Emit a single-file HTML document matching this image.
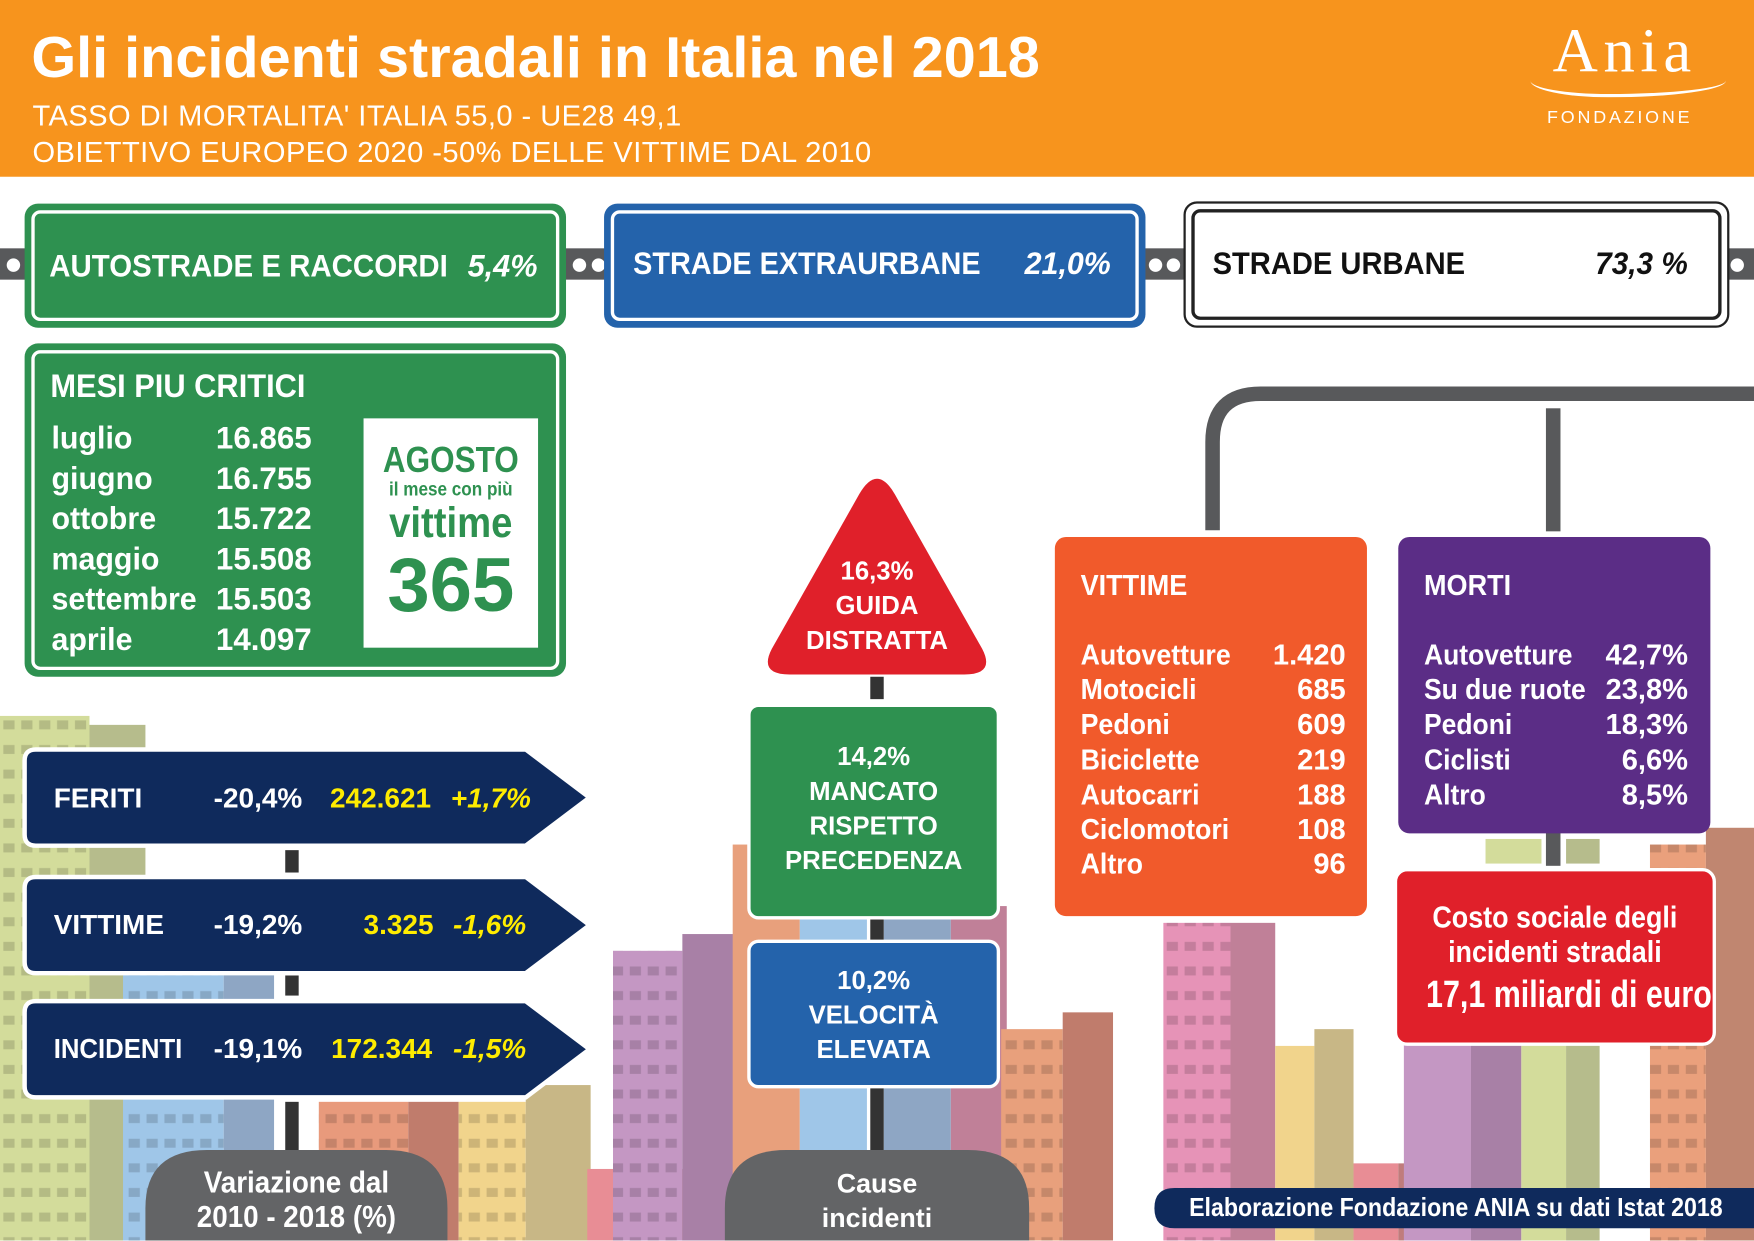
<!DOCTYPE html>
<html><head><meta charset="utf-8"><style>
html,body{margin:0;padding:0;width:1754px;height:1241px;overflow:hidden;background:#fff}
#w{position:absolute;left:0;top:0;width:1568px;height:1109px;transform:scale(1.11862);transform-origin:0 0;font-family:"Liberation Sans",sans-serif;font-weight:bold}
.a{position:absolute}
.t{position:absolute;white-space:nowrap;color:#fff}
.box{position:absolute;border-radius:12px;box-sizing:border-box}
.inner{position:absolute;left:6px;top:6px;right:6px;bottom:6px;border:3px solid #fff;border-radius:8px}
.y{color:#ffec00}
.sign{font-family:"Liberation Sans",sans-serif;text-align:center;font-size:23px;line-height:31px;color:#fff;position:absolute}
.vl{font-size:26px;line-height:31.2px}
</style></head><body><div id="w">
<svg class="a" style="left:0;top:0" width="1568" height="1109">
<defs>
<pattern id="win" width="16" height="22" patternUnits="userSpaceOnUse"><rect x="3" y="6" width="10" height="8" fill="#000" opacity="0.15"/></pattern>
</defs>
<g>
<rect x="0" y="640" width="80" height="469" fill="#d3dc9b"/><rect x="80" y="648" width="50" height="461" fill="#b6bc8c"/><rect x="0" y="640" width="80" height="469" fill="url(#win)"/>
<rect x="110" y="860" width="90" height="249" fill="#9fc6e8"/><rect x="200" y="860" width="45" height="249" fill="#8ea6c4"/><rect x="110" y="860" width="90" height="249" fill="url(#win)"/>
<rect x="285" y="985" width="80" height="124" fill="#e89a7c"/><rect x="365" y="985" width="45" height="124" fill="#c07c6c"/><rect x="285" y="985" width="80" height="124" fill="url(#win)"/>
<rect x="410" y="985" width="60" height="124" fill="#f1d48c"/><rect x="470" y="970" width="58" height="139" fill="#c8b786"/><rect x="410" y="985" width="60" height="124" fill="url(#win)"/>
<rect x="525" y="1045" width="50" height="64" fill="#e88d95"/><rect x="575" y="1045" width="40" height="64" fill="#c07c7c"/>
<rect x="548" y="850" width="62" height="259" fill="#c497c3"/><rect x="610" y="835" width="70" height="274" fill="#a880a6"/><rect x="548" y="850" width="62" height="259" fill="url(#win)"/>
<rect x="655" y="755" width="60" height="300" fill="#e8a07c"/><rect x="715" y="755" width="60" height="300" fill="#9fc6e8"/><rect x="790" y="755" width="60" height="300" fill="#8ea6c4"/>
<rect x="850" y="810" width="50" height="299" fill="#c08098"/>
<rect x="895" y="920" width="55" height="189" fill="#e8a07c"/><rect x="950" y="905" width="45" height="204" fill="#c07c6c"/><rect x="895" y="920" width="55" height="189" fill="url(#win)"/>
<rect x="1040" y="825" width="60" height="284" fill="#e693b7"/><rect x="1100" y="825" width="40" height="284" fill="#c08098"/><rect x="1040" y="825" width="60" height="284" fill="url(#win)"/>
<rect x="1140" y="935" width="35" height="174" fill="#f1d48c"/><rect x="1175" y="920" width="35" height="189" fill="#c8b786"/>
<rect x="1210" y="1040" width="40" height="69" fill="#e88d95"/><rect x="1250" y="1040" width="40" height="69" fill="#c07c7c"/>
<rect x="1255" y="930" width="60" height="179" fill="#c497c3"/><rect x="1315" y="930" width="45" height="179" fill="#a880a6"/><rect x="1360" y="930" width="40" height="179" fill="#d3dc9b"/><rect x="1400" y="930" width="30" height="179" fill="#b6bc8c"/>
<rect x="1328" y="750" width="50" height="22" fill="#d3dc9b"/><rect x="1400" y="750" width="30" height="22" fill="#b6bc8c"/>
<rect x="1475" y="755" width="50" height="354" fill="#eaa07c"/><rect x="1525" y="740" width="43" height="369" fill="#c08670"/><rect x="1475" y="755" width="50" height="354" fill="url(#win)"/>
</g>
<rect x="0" y="222" width="1568" height="28" fill="#58595b"/>
<circle cx="12" cy="237" r="6" fill="#fff"/><circle cx="518" cy="237" r="6" fill="#fff"/><circle cx="535" cy="237" r="6" fill="#fff"/><circle cx="1033" cy="237" r="6" fill="#fff"/><circle cx="1049" cy="237" r="6" fill="#fff"/><circle cx="1553" cy="237" r="6" fill="#fff"/>
<path d="M1084 474 V395 Q1084 352 1127 352 H1568" stroke="#58595b" stroke-width="13" fill="none"/>
<rect x="1382" y="365" width="13" height="110" fill="#58595b"/>
<rect x="1382" y="744" width="13" height="30" fill="#58595b"/>
<rect x="255" y="760" width="12" height="20" fill="#333"/><rect x="255" y="872" width="12" height="18" fill="#333"/><rect x="255" y="985" width="12" height="45" fill="#333"/>
<rect x="778" y="605" width="12" height="20" fill="#333"/><rect x="778" y="822" width="12" height="20" fill="#333"/><rect x="778" y="970" width="12" height="60" fill="#333"/>
<path d="M130 1109 V1080 Q130 1028 185 1028 H345 Q400 1028 400 1080 V1109Z" fill="#636466"/>
<path d="M648 1109 V1080 Q648 1028 703 1028 H865 Q920 1028 920 1080 V1109Z" fill="#636466"/>
<path d="M784 428 Q792 428 800 442 L878 580 Q890 603 862 603 H706 Q678 603 690 580 L768 442 Q776 428 784 428Z" fill="#e0202a"/>
<g fill="#0f2a5c" stroke="#fff" stroke-width="4">
<path d="M32 670 H470 L527 713 L470 756 H32 Q22 756 22 746 V680 Q22 670 32 670Z"/>
<path d="M32 784 H470 L527 827 L470 870 H32 Q22 870 22 860 V794 Q22 784 32 784Z"/>
<path d="M32 895 H470 L527 938 L470 981 H32 Q22 981 22 971 V905 Q22 895 32 895Z"/>
</g>
<path d="M1050 1062 H1568 V1098 H1050 Q1032 1098 1032 1080 Q1032 1062 1050 1062Z" fill="#0f2a5c"/>
</svg>

<div class="a" style="left:0;top:0;width:1568px;height:158px;background:#f7941d"></div>
<div class="t" style="left:28px;top:21px;font-size:51.5px">Gli incidenti stradali in Italia nel 2018</div>
<div class="t" style="left:29px;top:88px;font-weight:normal;font-size:26px;letter-spacing:0.4px">TASSO DI MORTALITA' ITALIA 55,0 - UE28 49,1</div>
<div class="t" style="left:29px;top:121px;font-weight:normal;font-size:26px;letter-spacing:0.4px">OBIETTIVO EUROPEO 2020 -50% DELLE VITTIME DAL 2010</div>
<div class="t" style="left:1388px;top:14px;font-family:'Liberation Serif',serif;font-weight:normal;font-size:56px;letter-spacing:5px">Ania</div>
<div class="a" style="left:1368px;top:72px;width:175px;height:12px;border-bottom:3px solid #fff;border-radius:0 0 60% 40%/0 0 100% 100%"></div>
<div class="t" style="left:1383px;top:97px;font-weight:normal;font-size:16px;letter-spacing:2.5px">FONDAZIONE</div>

<div class="box" style="left:22px;top:182px;width:484px;height:111px;background:#2e9150"><div class="inner"></div></div>
<div class="t" style="left:44px;top:222px;font-size:28px;transform:scaleX(0.94);transform-origin:left">AUTOSTRADE E RACCORDI</div><div class="t" style="left:418px;top:222px;font-size:28px;font-style:italic;transform:scaleX(0.98);transform-origin:left">5,4%</div>
<div class="box" style="left:540px;top:182px;width:484px;height:111px;background:#2463ab"><div class="inner"></div></div>
<div class="t" style="left:566px;top:220px;font-size:28px;transform:scaleX(0.92);transform-origin:left">STRADE EXTRAURBANE</div><div class="t" style="left:916px;top:220px;font-size:28px;font-style:italic;transform:scaleX(0.97);transform-origin:left">21,0%</div>
<div class="box" style="left:1058px;top:180px;width:488px;height:113px;background:#fff;border:2px solid #222"><div class="inner" style="border-color:#222;left:5px;top:5px;right:5px;bottom:5px"></div></div>
<div class="t" style="left:1084px;top:220px;font-size:28px;color:#111;transform:scaleX(0.93);transform-origin:left">STRADE URBANE</div><div class="t" style="left:1426px;top:220px;font-size:28px;font-style:italic;color:#111;transform:scaleX(0.95);transform-origin:left">73,3 %</div>

<div class="box" style="left:22px;top:307px;width:484px;height:298px;background:#2e9150"><div class="inner"></div></div>
<div class="t" style="left:45px;top:330px;font-size:29px;transform:scaleX(0.95);transform-origin:left">MESI PIU CRITICI</div>
<div class="t vl" style="left:46px;top:374px;font-size:28px;line-height:36px;transform:scaleX(0.97);transform-origin:left">luglio<br>giugno<br>ottobre<br>maggio<br>settembre<br>aprile</div>
<div class="t vl" style="left:193px;top:374px;font-size:28px;line-height:36px">16.865<br>16.755<br>15.722<br>15.508<br>15.503<br>14.097</div>
<div class="a" style="left:325px;top:374px;width:156px;height:205px;background:#fff;text-align:center;color:#2e9150">
<div style="font-size:32px;margin-top:20px;line-height:34px;transform:scaleX(0.88)">AGOSTO</div>
<div style="font-size:17px;line-height:20px;transform:scaleX(0.9)">il mese con più</div>
<div style="font-size:38px;line-height:40px;transform:scaleX(0.9)">vittime</div>
<div style="font-size:68px;line-height:70px">365</div></div>

<div class="t" style="left:48px;top:700px;font-size:25px">FERITI</div><div class="t" style="left:191px;top:700px;font-size:25px">-20,4%</div><div class="t y" style="left:295px;top:700px;font-size:25px">242.621</div><div class="t y" style="left:403px;top:700px;font-size:25px;font-style:italic">+1,7%</div>
<div class="t" style="left:48px;top:813px;font-size:25px">VITTIME</div><div class="t" style="left:191px;top:813px;font-size:25px">-19,2%</div><div class="t y" style="left:325px;top:813px;font-size:25px">3.325</div><div class="t y" style="left:405px;top:813px;font-size:25px;font-style:italic">-1,6%</div>
<div class="t" style="left:48px;top:924px;font-size:25px;transform:scaleX(0.92);transform-origin:left">INCIDENTI</div><div class="t" style="left:191px;top:924px;font-size:25px">-19,1%</div><div class="t y" style="left:296px;top:924px;font-size:25px">172.344</div><div class="t y" style="left:405px;top:924px;font-size:25px;font-style:italic">-1,5%</div>
<div class="t" style="left:130px;width:270px;text-align:center;top:1042px;font-size:27px;line-height:31px;transform:scaleX(0.92)">Variazione dal<br>2010 - 2018 (%)</div>

<div class="sign" style="left:684px;width:200px;top:495px">16,3%<br>GUIDA<br>DISTRATTA</div>
<div class="box" style="left:668px;top:629px;width:226px;height:193px;background:#2e9150;border:3px solid #fff;border-radius:10px"></div>
<div class="sign" style="left:668px;width:226px;top:661px">14,2%<br>MANCATO<br>RISPETTO<br>PRECEDENZA</div>
<div class="box" style="left:668px;top:840px;width:226px;height:133px;background:#2463ab;border:3px solid #fff;border-radius:10px"></div>
<div class="sign" style="left:668px;width:226px;top:861px">10,2%<br>VELOCITÀ<br>ELEVATA</div>
<div class="t" style="left:648px;width:272px;text-align:center;top:1043px;font-size:24px;line-height:31px">Cause<br>incidenti</div>

<div class="box" style="left:943px;top:480px;width:279px;height:339px;background:#f15a2b;border-radius:10px"></div>
<div class="t" style="left:966px;top:508px;font-size:26px;transform:scaleX(0.93);transform-origin:left">VITTIME</div>
<div class="t vl" style="left:966px;top:570px;transform:scaleX(0.92);transform-origin:left">Autovetture<br>Motocicli<br>Pedoni<br>Biciclette<br>Autocarri<br>Ciclomotori<br>Altro</div>
<div class="t vl" style="left:1100px;width:103px;text-align:right;top:570px">1.420<br>685<br>609<br>219<br>188<br>108<br>96</div>
<div class="box" style="left:1250px;top:480px;width:279px;height:265px;background:#5b2d86;border-radius:10px"></div>
<div class="t" style="left:1273px;top:508px;font-size:26px;transform:scaleX(0.93);transform-origin:left">MORTI</div>
<div class="t vl" style="left:1273px;top:570px;transform:scaleX(0.91);transform-origin:left">Autovetture<br>Su due ruote<br>Pedoni<br>Ciclisti<br>Altro</div>
<div class="t vl" style="left:1410px;width:99px;text-align:right;top:570px">42,7%<br>23,8%<br>18,3%<br>6,6%<br>8,5%</div>
<div class="box" style="left:1246px;top:776px;width:288px;height:159px;background:#e0202a;border:3px solid #fff;border-radius:12px"></div>
<div class="t" style="left:1246px;width:288px;text-align:center;top:805px;font-size:27px;line-height:31px;transform:scaleX(0.89)">Costo sociale degli<br>incidenti stradali</div>
<div class="t" style="left:1246px;width:288px;text-align:center;top:870px;font-size:34px;transform:scaleX(0.8)">17,1 miliardi di euro</div>
<div class="t" style="left:1063px;top:1066px;font-size:23px;transform:scaleX(0.9);transform-origin:left">Elaborazione Fondazione ANIA su dati Istat 2018</div>
</div></body></html>
